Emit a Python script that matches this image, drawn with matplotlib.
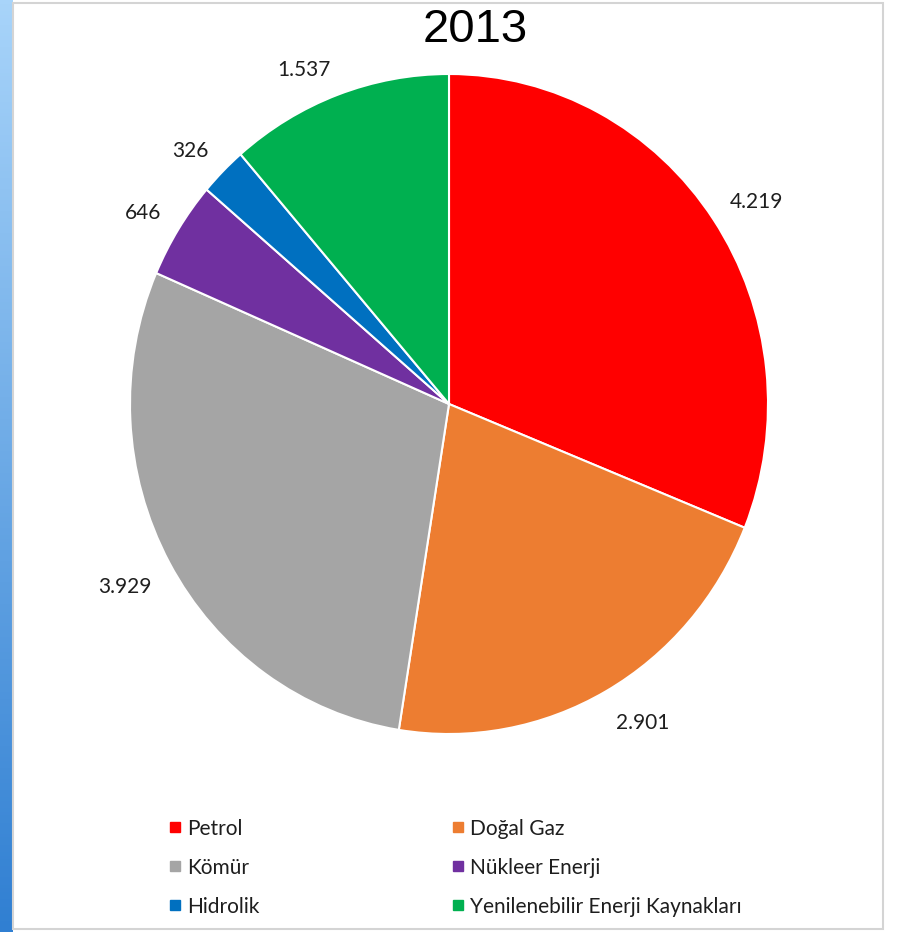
import numpy as np
import matplotlib
matplotlib.use('Agg')
import matplotlib.pyplot as plt
from matplotlib.lines import Line2D
from matplotlib.patches import Rectangle

# energy consumption by source, 2013
categories = ['Petrol', 'Doğal Gaz', 'Kömür', 'Nükleer Enerji', 'Hidrolik',
              'Yenilenebilir Enerji Kaynakları']
values = [4219, 2901, 3929, 646, 326, 1537]
value_labels = ['4.219', '2.901', '3.929', '646', '326', '1.537']
colors = ['#FF0000', '#ED7D31', '#A5A5A5', '#7030A0', '#0070C0', '#00B050']
title = '2013'

W, H = 899, 932
fig = plt.figure(figsize=(W/100., H/100.), dpi=100)
fig.patch.set_facecolor('white')

# blue gradient strip on the left edge
ax_strip = fig.add_axes([0, 0, 13./W, 1])
grad = np.linspace(0, 1, 256).reshape(-1, 1)
top_c = np.array([0xa8, 0xd4, 0xfa])/255.
bot_c = np.array([0x30, 0x7f, 0xd2])/255.
img = top_c[None, None, :]*(1-grad[:, :, None]) + bot_c[None, None, :]*grad[:, :, None]
ax_strip.imshow(img, aspect='auto', extent=[0, 1, 0, 1])
ax_strip.axis('off')

# thin grey frame
fig.patches.append(Rectangle((13./W, 1-929./H), 870./W, 926./H, transform=fig.transFigure,
                             fill=False, edgecolor='#d4d4d4', linewidth=1.5, zorder=0))

# pie axes (slightly taller than wide)
cx, cy, rx, ry = 449., 404., 319., 330.
ax = fig.add_axes([(cx-rx)/W, 1-(cy+ry)/H, 2*rx/W, 2*ry/H])
wedges, _ = ax.pie(values, colors=colors, startangle=90, counterclock=False,
                   wedgeprops=dict(edgecolor='white', linewidth=1.5))
ax.set_xlim(-1, 1)
ax.set_ylim(-1, 1)
ax.set_aspect('auto')
ax.axis('off')

# value labels just outside the rim: the text box is pushed out from the
# rim point at the wedge's mid angle, offset by half its size
renderer = fig.canvas.get_renderer()
gap = 20.
for w, lab in zip(wedges, value_labels):
    ang = np.deg2rad((w.theta1 + w.theta2)/2.)
    dx, dy = np.cos(ang), np.sin(ang)
    t = fig.text(0, 0, lab, ha='center', va='center', fontsize=15,
                 family='Lato', color='#1e1e1e')
    bb = t.get_window_extent(renderer)
    px = cx + (rx + gap)*dx + np.sign(dx)*bb.width/2.
    py = (H - cy) + (ry + gap)*dy + np.sign(dy)*bb.height/2. - 4.
    t.set_position((px/W, py/H))

fig.text(475./W, 1-30./H, title, ha='center', va='center', fontsize=34,
         family='Liberation Sans', color='black')

# legend, filled row-wise: Petrol / Doğal Gaz, Kömür / Nükleer, Hidrolik / Yenilenebilir
order = [0, 2, 4, 1, 3, 5]
handles = [Line2D([], [], marker='s', linestyle='none', markersize=7,
                  markerfacecolor=colors[i], markeredgecolor=colors[i]) for i in order]
labels = [categories[i] for i in order]
leg = fig.legend(handles, labels, ncol=2, frameon=False, loc='upper left',
                 bbox_to_anchor=(150./W, 1-800./H), prop=dict(family='Lato', size=15),
                 handlelength=0.6, handletextpad=0.3, columnspacing=9.2,
                 labelspacing=0.91, labelcolor='#1e1e1e')

fig.savefig('out.png', dpi=100)
